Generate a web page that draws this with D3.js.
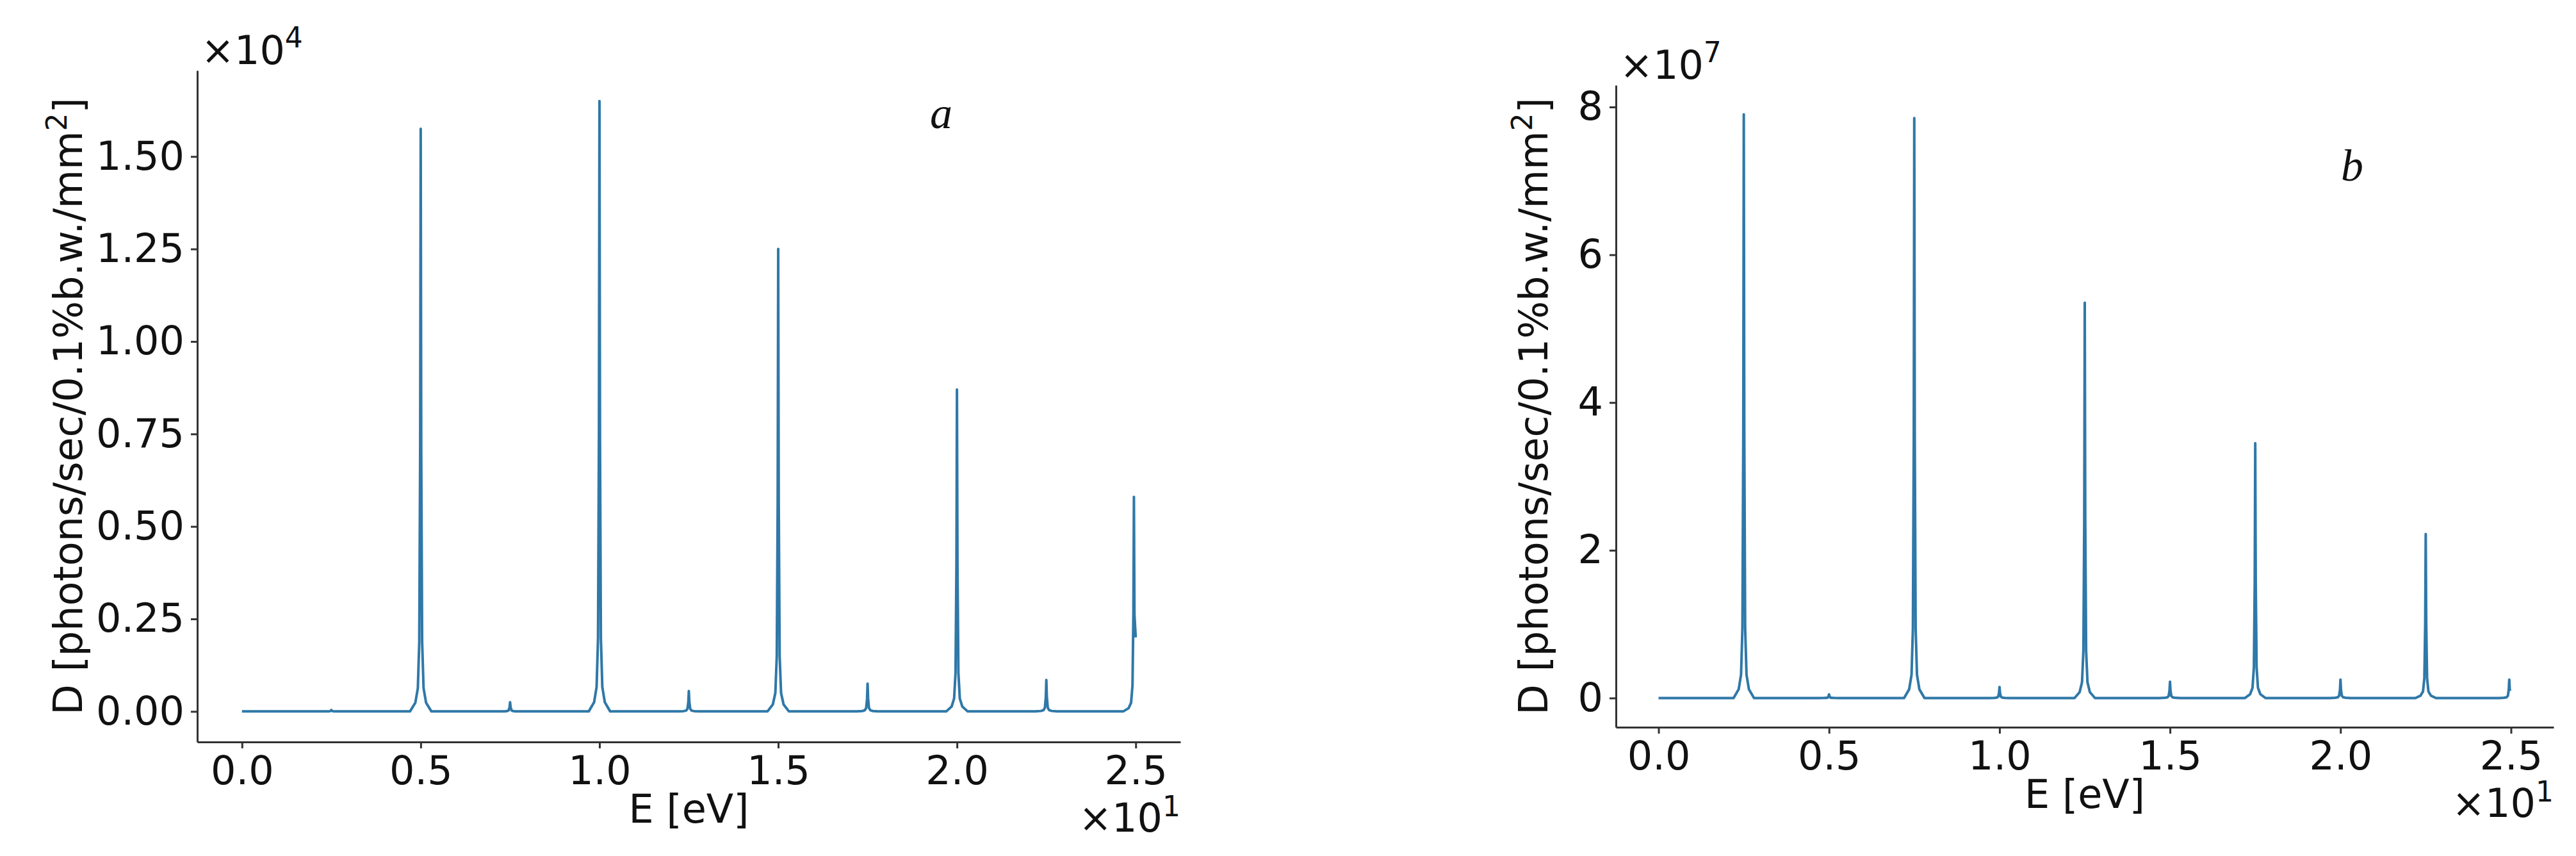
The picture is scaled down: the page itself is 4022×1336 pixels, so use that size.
<!DOCTYPE html>
<html>
<head>
<meta charset="utf-8">
<script src="https://cdn.jsdelivr.net/npm/d3@7"></script>
<style>
  body { margin: 0; background: #fff; }
  text { fill: #111; }
  .axis path, .axis line { stroke: #333; stroke-width: 3px; }
  .axis text { font-size: 62px; font-family: "DejaVu Sans", sans-serif; }
  .line { fill: none; stroke: #2f78a8; stroke-width: 4px; stroke-linejoin: round; }
</style>
</head>
<body>
<svg id="chart" width="4022" height="1336"></svg>
<script>
// peak centres (E, x10 eV) and heights
var peaksA_E = [0.25, 0.5, 0.75, 1.0, 1.25, 1.5, 1.75, 2.0, 2.25, 2.495];
var peaksA_D = [0.004, 1.575, 0.025, 1.65, 0.055, 1.25, 0.075, 0.87, 0.085, 0.58]; // x1e4
var endA = 0.2;

var peaksB_E = [0.25, 0.5, 0.75, 1.0, 1.25, 1.5, 1.75, 2.0, 2.25, 2.495];
var peaksB_D = [7.9, 0.05, 7.85, 0.15, 5.35, 0.22, 3.45, 0.25, 2.22, 0.25]; // x1e7
var endB = 0.12;

// line shape around each peak (offset in E, fraction of height)
var shapeOffset = [-0.03, -0.015, -0.008, -0.004, -0.0015, 0, 0.0015, 0.004, 0.008, 0.015, 0.03];
var shapeFrac   = [0, 0.015, 0.04, 0.12, 0.45, 1, 0.45, 0.12, 0.04, 0.015, 0];

var ticksA = [0, 0.25, 0.5, 0.75, 1.0, 1.25, 1.5];
var ticksB = [0, 2, 4, 6, 8];
var ticksX = [0, 0.5, 1.0, 1.5, 2.0, 2.5];

var yLabel = "D [photons/sec/0.1%b.w./mm";

function buildPoints(es, ds, end) {
  var pts = [[0, 0]];
  es.forEach(function (e, i) {
    shapeOffset.forEach(function (o, j) {
      pts.push([e + o, ds[i] * shapeFrac[j]]);
    });
  });
  // data stops at 2.5, on the falling side of the last peak
  pts = pts.filter(function (p) { return p[0] < 2.4975; });
  pts.push([2.5, end]);
  return pts;
}

var svg = d3.select("#chart");

function panel(opt) {
  var x = d3.scaleLinear().domain([-0.125, 2.625]).range([opt.left, opt.right]);
  var y = d3.scaleLinear().domain(opt.ydom).range([opt.bottom, opt.top]);

  svg.append("g").attr("class", "axis")
    .attr("transform", "translate(0," + opt.bottom + ")")
    .call(d3.axisBottom(x).tickValues(ticksX).tickFormat(d3.format(".1f")).tickSize(10).tickPadding(12).tickSizeOuter(0));

  svg.append("g").attr("class", "axis")
    .attr("transform", "translate(" + opt.left + ",0)")
    .call(d3.axisLeft(y).tickValues(opt.ticks).tickFormat(opt.fmt).tickSize(10).tickPadding(10).tickSizeOuter(0));

  svg.append("path")
    .datum(opt.points)
    .attr("class", "line")
    .attr("d", d3.line().x(function (d) { return x(d[0]); }).y(function (d) { return y(d[1]); }));

  var sans = "font-family:'DejaVu Sans',sans-serif";

  // offset texts
  var m = svg.append("text").attr("x", opt.left + 6).attr("y", opt.top - 10).attr("font-size", 62).attr("style", sans);
  m.append("tspan").text("\u00d710");
  m.append("tspan").attr("dy", -26).attr("font-size", 44).text(opt.exp);

  var mx = svg.append("text").attr("x", opt.right).attr("y", opt.bottom + 140)
    .attr("font-size", 62).attr("text-anchor", "end").attr("style", sans);
  mx.append("tspan").text("\u00d710");
  mx.append("tspan").attr("dy", -24).attr("font-size", 44).text("1");

  svg.append("text").attr("x", (opt.left + opt.right) / 2).attr("y", opt.bottom + 126)
    .attr("font-size", 62).attr("text-anchor", "middle").attr("style", sans).text("E [eV]");

  var yl = svg.append("text")
    .attr("transform", "translate(" + opt.ylx + "," + (opt.top + opt.bottom) / 2 + ") rotate(-90)")
    .attr("font-size", 62).attr("text-anchor", "middle").attr("style", sans);
  yl.append("tspan").text(yLabel);
  yl.append("tspan").attr("dy", -24).attr("font-size", 44).text("2");
  yl.append("tspan").attr("dy", 24).text("]");

  svg.append("text").attr("x", opt.lx).attr("y", opt.ly)
    .attr("style", "font-family:'Liberation Serif',serif;font-style:italic")
    .attr("font-size", 70).text(opt.letter);
}

panel({
  left: 308, right: 1843, top: 110, bottom: 1158,
  ydom: [-0.0825, 1.7325], ticks: ticksA, fmt: d3.format(".2f"),
  points: buildPoints(peaksA_E, peaksA_D, endA), exp: "4",
  ylx: 128, letter: "a", lx: 1452, ly: 200
});

panel({
  left: 2523, right: 3987, top: 133, bottom: 1135,
  ydom: [-0.395, 8.295], ticks: ticksB, fmt: d3.format("d"),
  points: buildPoints(peaksB_E, peaksB_D, endB), exp: "7",
  ylx: 2416, letter: "b", lx: 3655, ly: 282
});
</script>
</body>
</html>
